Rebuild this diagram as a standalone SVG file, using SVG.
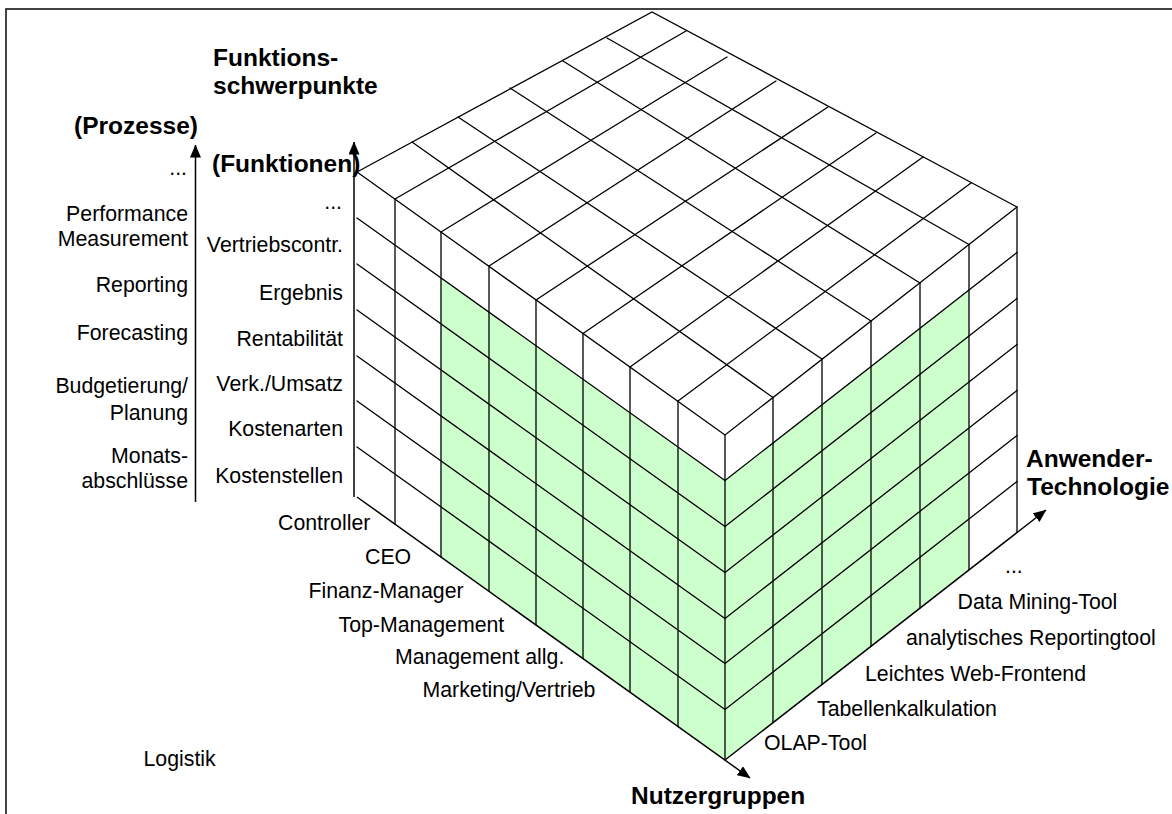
<svg xmlns="http://www.w3.org/2000/svg" width="1172" height="814" viewBox="0 0 1172 814">
<defs>
<marker id="ah" viewBox="0 0 13 11" refX="12.5" refY="5.5" markerWidth="13" markerHeight="11" markerUnits="userSpaceOnUse" orient="auto"><path d="M0,0 L13,5.5 L0,11 z" fill="#000"/></marker>
</defs>
<style>
.g{stroke:#000;stroke-width:1.3;fill:none;stroke-linecap:round}
.f{fill:#ccffcc;stroke:none}
.t{font-family:"Liberation Sans",Arial,sans-serif;font-size:21.3px;fill:#000}
.b{font-family:"Liberation Sans",Arial,sans-serif;font-size:24.5px;font-weight:bold;fill:#000}
.e{text-anchor:end}
.ax{stroke:#000;stroke-width:1.5;fill:none;marker-end:url(#ah)}
</style>
<rect id="frame" x="6" y="9" width="1220" height="900" fill="#fff" stroke="#222" stroke-width="1.7"/>

<g id="highlight">
<polygon class="f" points="441,278 725,481 725,760 441,557"/>
<polygon class="f" points="725,481 969,290 969,569.5 725,760"/>
</g>

<g id="top-face" class="g">
<path d="M357,172 L652,12 L1017,207 M357,172 L725,435 L1017,207"/>
<path d="M395,199 L686,31 M441,232 L727,57 M489,266 L776,81 M536,300 L828,107 M583,333.5 L876,133 M630,367 L923,157 M678,401 L971,183"/>
<path d="M412,142 L773,397.5 M458,117 L822,359 M510,88 L871,321 M563,61 L920,283 M607,38 L969,244.5"/>
</g>

<g id="left-face" class="g">
<path d="M395,199 V524 M441,232 V557 M489,266 V591 M536,300 V625 M583,333.5 V658.5 M630,367 V692 M678,401 V726.5 M725,435 V760"/>
<path d="M357,218 L725,480.5 M357,264 L725,526.5 M357,310 L725,572.5 M357,356 L725,618.5 M357,401 L725,663.5 M357,447 L725,709.5"/>
</g>

<g id="right-face" class="g">
<path d="M773,397.5 V722.5 M822,359 V684 M871,321 V646 M920,283 V608 M969,244.5 V569.5 M1017,207 V532"/>
<path d="M725,480.5 L1017,252.5 M725,526.5 L1017,298.5 M725,572.5 L1017,344.5 M725,618.5 L1017,390.5 M725,663.5 L1017,435.5 M725,709.5 L1017,481.5"/>
</g>

<g id="connectors">
<path class="ax" d="M195.5,502 V145"/>
<path class="ax" d="M354,497 V142"/>
<path class="ax" d="M357,497 L750,778"/>
<path class="ax" d="M725,760 L1046,510"/>
</g>

<g id="titles">
<text class="b" x="213" y="66">Funktions-</text>
<text class="b" x="213" y="94">schwerpunkte</text>
<text class="b" x="74" y="133.5">(Prozesse)</text>
<text class="b" x="212" y="172">(Funktionen)</text>
<text class="b" x="1026" y="467">Anwender-</text>
<text class="b" x="1027" y="495">Technologie</text>
<text class="b" x="631" y="804">Nutzergruppen</text>
</g>

<g id="prozesse-labels">
<text class="t e" x="187" y="175">...</text>
<text class="t e" x="188" y="221">Performance</text>
<text class="t e" x="188" y="245.5">Measurement</text>
<text class="t e" x="188" y="291.5">Reporting</text>
<text class="t e" x="188" y="340">Forecasting</text>
<text class="t e" x="188" y="393">Budgetierung/</text>
<text class="t e" x="188" y="420">Planung</text>
<text class="t e" x="188" y="463">Monats-</text>
<text class="t e" x="188" y="488">abschlüsse</text>
</g>

<g id="funktionen-labels">
<text class="t e" x="342" y="209">...</text>
<text class="t e" x="343" y="252">Vertriebscontr.</text>
<text class="t e" x="343" y="299.5">Ergebnis</text>
<text class="t e" x="343" y="346">Rentabilität</text>
<text class="t e" x="343" y="391">Verk./Umsatz</text>
<text class="t e" x="343" y="436">Kostenarten</text>
<text class="t e" x="343" y="483">Kostenstellen</text>
</g>

<g id="nutzer-labels">
<text class="t" x="278" y="530">Controller</text>
<text class="t" x="365" y="563.5">CEO</text>
<text class="t" x="308.5" y="597.5">Finanz-Manager</text>
<text class="t" x="338.5" y="632">Top-Management</text>
<text class="t" x="395" y="663.5">Management allg.</text>
<text class="t" x="422.5" y="697">Marketing/Vertrieb</text>
<text class="t" x="143.5" y="766">Logistik</text>
</g>

<g id="technologie-labels">
<text class="t" x="764" y="750">OLAP-Tool</text>
<text class="t" x="817" y="715.5">Tabellenkalkulation</text>
<text class="t" x="865" y="680.5">Leichtes Web-Frontend</text>
<text class="t" x="906" y="645">analytisches Reportingtool</text>
<text class="t" x="957.5" y="609">Data Mining-Tool</text>
<text class="t" x="1005" y="573">...</text>
</g>
</svg>
